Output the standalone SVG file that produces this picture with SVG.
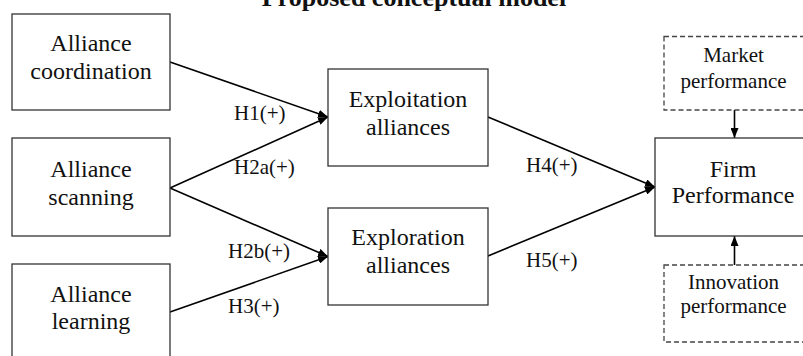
<svg xmlns="http://www.w3.org/2000/svg" width="803" height="356" viewBox="0 0 803 356">
<style>
text{font-family:"Liberation Serif","Times New Roman",serif;fill:#111;}
.n{font-size:24px;text-anchor:middle;}
.s{font-size:21px;text-anchor:middle;}
.h{font-size:21px;}
.t{font-size:26px;font-weight:bold;text-anchor:middle;}
.box{fill:#fff;stroke:#333;stroke-width:1.3;}
.dash{fill:#fff;stroke:#444;stroke-width:1.3;stroke-dasharray:5,3;}
.c{stroke:#000;stroke-width:1.6;fill:none;marker-end:url(#ah);}
</style>
<defs>
<marker id="ah" viewBox="0 0 10 8" refX="10" refY="4" markerWidth="10" markerHeight="8" markerUnits="userSpaceOnUse" orient="auto">
<path d="M0,0 L10,4 L0,8 z" fill="#000"/>
</marker>
</defs>
<rect width="803" height="356" fill="#fff"/>
<text class="t" x="414" y="6">Proposed conceptual model</text>
<g id="connectors">
<line class="c" x1="170" y1="62" x2="328" y2="117"/>
<line class="c" x1="170" y1="188" x2="328" y2="117"/>
<line class="c" x1="170" y1="188" x2="328" y2="256.5"/>
<line class="c" x1="170" y1="312" x2="328" y2="256.5"/>
<line class="c" x1="488" y1="117" x2="655" y2="187"/>
<line class="c" x1="488" y1="256" x2="655" y2="187"/>
<line class="c" x1="734.5" y1="110" x2="734.5" y2="138"/>
<line class="c" x1="734.5" y1="265" x2="734.5" y2="236"/>
<text class="h" x="234" y="120">H1(+)</text>
<text class="h" x="234" y="174">H2a(+)</text>
<text class="h" x="228" y="258">H2b(+)</text>
<text class="h" x="228" y="313">H3(+)</text>
<text class="h" x="526" y="172">H4(+)</text>
<text class="h" x="526" y="267">H5(+)</text>
</g>
<g id="coordination">
<rect class="box" x="12" y="14" width="158" height="96"/>
<text class="n" x="91" y="51">Alliance</text>
<text class="n" x="91" y="79">coordination</text>
</g>
<g id="scanning">
<rect class="box" x="12" y="138" width="158" height="98"/>
<text class="n" x="91" y="177">Alliance</text>
<text class="n" x="91" y="205">scanning</text>
</g>
<g id="learning">
<rect class="box" x="12" y="264" width="158" height="100"/>
<text class="n" x="91" y="302">Alliance</text>
<text class="n" x="91" y="329">learning</text>
</g>
<g id="exploitation">
<rect class="box" x="328" y="69" width="160" height="97"/>
<text class="n" x="408" y="107">Exploitation</text>
<text class="n" x="408" y="135">alliances</text>
</g>
<g id="exploration">
<rect class="box" x="328" y="208" width="160" height="97"/>
<text class="n" x="408" y="245">Exploration</text>
<text class="n" x="408" y="273">alliances</text>
</g>
<g id="firm">
<rect class="box" x="655" y="138" width="160" height="98"/>
<text class="n" x="733" y="177">Firm</text>
<text class="n" x="733" y="203">Performance</text>
</g>
<g id="market">
<rect class="dash" x="664" y="36.5" width="145" height="73.5"/>
<text class="s" x="733.5" y="62">Market</text>
<text class="s" x="733.5" y="88">performance</text>
</g>
<g id="innovation">
<rect class="dash" x="664" y="265" width="145" height="77"/>
<text class="s" x="733.5" y="289">Innovation</text>
<text class="s" x="733.5" y="313">performance</text>
</g>
</svg>
